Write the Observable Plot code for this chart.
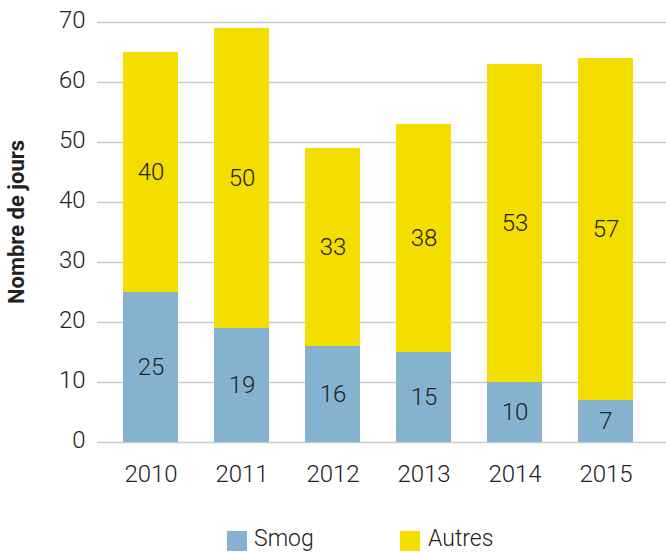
<!DOCTYPE html>
<html>
<head>
<meta charset="utf-8">
<script src="https://cdn.jsdelivr.net/npm/d3@7"></script>
<script src="https://cdn.jsdelivr.net/npm/@observablehq/plot@0.6"></script>
<style>
  body { margin: 0; background: #fff; }
  #chart { width: 666px; }
  .legend { position: relative; width: 666px; height: 52px; font-family: "Roboto", sans-serif; font-weight: 300; font-size: 23px; color: #222; overflow: hidden; }
  .legend .sw { position: absolute; top: 31px; width: 20px; height: 20px; }
  .legend .lb { position: absolute; top: 26px; line-height: 26px; }
</style>
</head>
<body>
<div id="chart"></div>
<script>
const years = ["2010", "2011", "2012", "2013", "2014", "2015"];
const smog = [25, 19, 16, 15, 10, 7];
const autres = [40, 50, 33, 38, 53, 57];
const seriesNames = ["Smog", "Autres"];
const seriesColors = ["#84b2cf", "#f4de00"];
const yTicks = [0, 10, 20, 30, 40, 50, 60, 70];
const yLabel = "Nombre de jours";

const data = [];
years.forEach((yr, i) => {
  data.push({year: yr, series: "Smog", value: smog[i]});
  data.push({year: yr, series: "Autres", value: autres[i]});
});

const font = '"Roboto", sans-serif';

const plot = Plot.plot({
  width: 666,
  height: 500,
  marginLeft: 100,
  marginRight: 10,
  marginTop: 22,
  marginBottom: 58,
  style: {fontFamily: font, fontSize: "23px", fontWeight: 300, color: "#222", background: "#fff"},
  x: {domain: years, paddingInner: 0.4, paddingOuter: 0.25, label: null},
  y: {domain: [0, 70], label: null},
  color: {domain: seriesNames, range: seriesColors},
  marks: [
    Plot.ruleY(yTicks, {stroke: "#cccccc", strokeWidth: 1.5, insetLeft: -3, insetRight: -10}),
    Plot.barY(data, {x: "year", y: "value", z: "series", fill: "series", order: seriesNames}),
    Plot.text(data, Plot.stackY({x: "year", y: "value", z: "series", order: seriesNames, text: d => String(d.value), fill: "#222", fontSize: 24})),
    Plot.axisY(yTicks, {tickSize: 0, tickPadding: 15, fontSize: 24, fill: "#222", label: null, dy: -2}),
    Plot.axisX({tickSize: 0, tickPadding: 22, fontSize: 24, fill: "#222", label: null})
  ]
});

const svg = d3.select(plot);
svg.append("text")
  .attr("transform", "translate(24,222) rotate(-90)")
  .attr("text-anchor", "middle")
  .attr("font-family", font)
  .attr("font-weight", "bold")
  .attr("font-size", 22)
  .attr("fill", "#222")
  .text(yLabel);

document.getElementById("chart").appendChild(plot);

const legend = document.createElement("div");
legend.className = "legend";
const legPos = [[227, 254], [400, 428]];
seriesNames.forEach((name, i) => {
  const sw = document.createElement("div");
  sw.className = "sw";
  sw.style.left = legPos[i][0] + "px";
  sw.style.background = seriesColors[i];
  const lb = document.createElement("div");
  lb.className = "lb";
  lb.style.left = legPos[i][1] + "px";
  lb.textContent = name;
  legend.appendChild(sw);
  legend.appendChild(lb);
});
document.getElementById("chart").appendChild(legend);
</script>
</body>
</html>
